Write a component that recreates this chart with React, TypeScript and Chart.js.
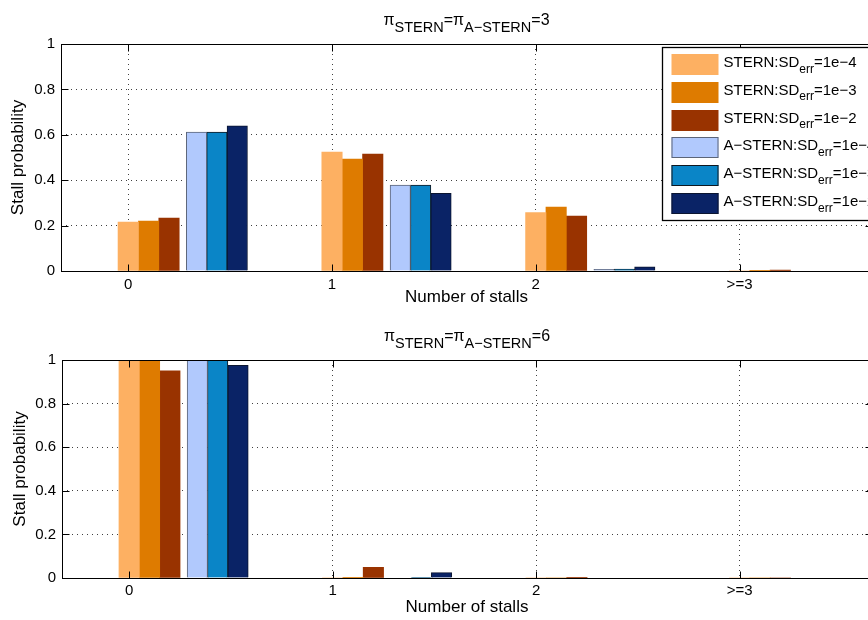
import React, { useEffect, useRef } from "react";
import { Chart, registerables } from "chart.js";

Chart.register(...registerables);

const FONT = "'Liberation Sans', Arial, Helvetica, sans-serif";

// ---- categories / tick labels ----
const stallCounts = [0, 1, 2, 3];
const stallLabels = ["0", "1", "2", ">=3"];

// ---- series description ----
const seriesMethods = ["STERN", "STERN", "STERN", "A\u2212STERN", "A\u2212STERN", "A\u2212STERN"];
const seriesSdErr = ["1e\u22124", "1e\u22123", "1e\u22122", "1e\u22124", "1e\u22123", "1e\u22122"];
const seriesFill = ["#FDB062", "#DE7B00", "#993300", "#B1C9FD", "#0A85C7", "#0A2366"];
const seriesEdge = ["", "", "", "#5C6578", "#101820", "#0B1530"];
const seriesOffsets = [0, 0.1, 0.2, 0.335, 0.435, 0.535];

const piValues = [3, 6];

// ---- pi = 3 (top panel) ----
const p3Stern1e4 = [0.216, 0.524, 0.257, 0.0];
const p3Stern1e3 = [0.22, 0.493, 0.282, 0.001];
const p3Stern1e2 = [0.233, 0.515, 0.242, 0.004];
const p3AStern1e4 = [0.612, 0.379, 0.007, 0.0];
const p3AStern1e3 = [0.612, 0.379, 0.008, 0.0];
const p3AStern1e2 = [0.639, 0.342, 0.018, 0.0];

// ---- pi = 6 (bottom panel) ----
const p6Stern1e4 = [1.0, 0.0, 0.0, 0.0];
const p6Stern1e3 = [0.999, 0.001, 0.0, 0.0];
const p6Stern1e2 = [0.95, 0.049, 0.001, 0.0];
const p6AStern1e4 = [1.0, 0.0, 0.0, 0.0];
const p6AStern1e3 = [0.999, 0.001, 0.0, 0.0];
const p6AStern1e2 = [0.975, 0.025, 0.0, 0.0];

const p3Series = [p3Stern1e4, p3Stern1e3, p3Stern1e2, p3AStern1e4, p3AStern1e3, p3AStern1e2];
const p6Series = [p6Stern1e4, p6Stern1e3, p6Stern1e2, p6AStern1e4, p6AStern1e3, p6AStern1e2];

const X_MIN = -0.33;
const X_MAX = 3.65;
const BAR_PX = 20.4;
const CANVAS_W = 880;
const CANVAS_H = 310;

type Part = { t: string; sub?: boolean };

function drawParts(ctx: CanvasRenderingContext2D, parts: Part[], x: number, baseline: number, mainSize: number, subSize: number, subDrop: number, center: boolean) {
  const widths = parts.map((p) => {
    ctx.font = `${p.sub ? subSize : mainSize}px ${FONT}`;
    return ctx.measureText(p.t).width;
  });
  const total = widths.reduce((a, b) => a + b, 0);
  let cx = center ? x - total / 2 : x;
  ctx.textAlign = "left";
  ctx.textBaseline = "alphabetic";
  parts.forEach((p, i) => {
    ctx.font = `${p.sub ? subSize : mainSize}px ${FONT}`;
    ctx.fillText(p.t, cx, p.sub ? baseline + subDrop : baseline);
    cx += widths[i];
  });
}

const matlabPlugin = {
  id: "matlab",
  afterDraw(chart: any, _args: any, opts: any) {
    const { ctx, chartArea: a } = chart;
    const L = Math.floor(a.left) + 0.5;
    const R = Math.floor(a.right) + 0.5;
    const T = Math.floor(a.top) + 0.5;
    const B = Math.floor(a.bottom) + 0.5;
    ctx.save();
    ctx.strokeStyle = "#000";
    ctx.lineWidth = 1;
    ctx.strokeRect(L, T, R - L, B - T);
    // inward ticks
    const tl = 7;
    ctx.beginPath();
    const xs = chart.scales.x;
    xs.ticks.forEach((t: any) => {
      const px = Math.round(xs.getPixelForValue(t.value)) + 0.5;
      ctx.moveTo(px, B);
      ctx.lineTo(px, B - tl);
      ctx.moveTo(px, T);
      ctx.lineTo(px, T + tl);
    });
    const ys = chart.scales.y;
    ys.ticks.forEach((t: any) => {
      const py = Math.round(ys.getPixelForValue(t.value)) + 0.5;
      ctx.moveTo(L, py);
      ctx.lineTo(L + tl, py);
      ctx.moveTo(R, py);
      ctx.lineTo(R - tl, py);
    });
    ctx.stroke();

    // title with subscripts
    ctx.fillStyle = "#000";
    const titleParts: Part[] = [
      { t: "\u03C0" },
      { t: "STERN", sub: true },
      { t: "=\u03C0" },
      { t: "A\u2212STERN", sub: true },
      { t: "=" + opts.piValue },
    ];
    drawParts(ctx, titleParts, (a.left + a.right) / 2, a.top - 19, 16, 14.5, 7, true);

    // legend
    if (opts.legend) {
      const lx = Math.round(a.right - 210) + 0.5;
      const ly = Math.round(a.top + 3) + 0.5;
      const lw = 207;
      const lh = 173;
      ctx.fillStyle = "#fff";
      ctx.fillRect(lx, ly, lw, lh);
      ctx.strokeStyle = "#000";
      ctx.lineWidth = 1.3;
      ctx.strokeRect(lx, ly, lw, lh);
      const pitch = 27.8;
      seriesMethods.forEach((m, i) => {
        const cy = ly + 17 + i * pitch;
        const bx = lx + 9;
        const by = Math.round(cy - 10.5);
        ctx.fillStyle = seriesFill[i];
        ctx.fillRect(bx, by, 47, 21);
        if (seriesEdge[i]) {
          ctx.strokeStyle = seriesEdge[i];
          ctx.lineWidth = 1;
          ctx.strokeRect(bx + 0.5, by + 0.5, 46, 20);
        }
        ctx.fillStyle = "#000";
        drawParts(
          ctx,
          [{ t: m + ":SD" }, { t: "err", sub: true }, { t: "=" + seriesSdErr[i] }],
          lx + 61,
          cy + 2.5,
          15,
          12,
          5.5,
          false
        );
      });
    }
    ctx.restore();
  },
};

type Geom = { top: number; padTop: number; yAxisW: number; xAxisH: number; xTickPad: number; yTitlePad: number };

function BarPanel({ series, piValue, legend, geom }: { series: number[][]; piValue: number; legend: boolean; geom: Geom }) {
  const ref = useRef<HTMLCanvasElement>(null);
  useEffect(() => {
    const datasets = series.map((vals, s) => ({
      label: `${seriesMethods[s]}:SD_err=${seriesSdErr[s]}`,
      data: stallCounts.map((c, i) => ({ x: c + seriesOffsets[s], y: vals[i] })),
      backgroundColor: seriesFill[s],
      borderColor: seriesEdge[s] || seriesFill[s],
      borderWidth: seriesEdge[s] ? 1 : 0,
      barThickness: BAR_PX,
      grouped: false,
    }));
    const gridCommon = { color: "#404040", lineWidth: 1, drawTicks: false, offset: false };
    const chart = new Chart(ref.current as HTMLCanvasElement, {
      type: "bar",
      data: { datasets } as any,
      options: {
        animation: false,
        responsive: false,
        events: [],
        layout: { padding: { top: geom.padTop, right: 8, bottom: 0, left: 0 } },
        plugins: {
          legend: { display: false },
          tooltip: { enabled: false },
          matlab: { piValue, legend },
        } as any,
        scales: {
          x: {
            type: "linear",
            min: X_MIN,
            max: X_MAX,
            offset: false,
            afterBuildTicks: (axis: any) => {
              axis.ticks = stallCounts.map((v) => ({ value: v }));
            },
            afterFit: (axis: any) => {
              axis.height = geom.xAxisH;
            },
            ticks: {
              callback: (_v: any, i: number) => stallLabels[i],
              font: { size: 15, family: FONT },
              color: "#000",
              padding: geom.xTickPad,
              maxRotation: 0,
              autoSkip: false,
            },
            grid: gridCommon,
            border: { display: false, dash: [1, 4] },
            title: {
              display: true,
              text: "Number of stalls",
              font: { size: 17, family: FONT },
              color: "#000",
              padding: { top: 0, bottom: 2 },
            },
          },
          y: {
            type: "linear",
            min: 0,
            max: 1,
            afterFit: (axis: any) => {
              axis.width = geom.yAxisW;
            },
            ticks: {
              stepSize: 0.2,
              callback: (v: any) => String(Number(Number(v).toFixed(2))),
              font: { size: 15, family: FONT },
              color: "#000",
              padding: 6,
            },
            grid: gridCommon,
            border: { display: false, dash: [1, 4] },
            title: {
              display: true,
              text: "Stall probability",
              font: { size: 17, family: FONT },
              color: "#000",
              padding: { top: geom.yTitlePad, bottom: 0 },
            },
          },
        },
      } as any,
      plugins: [matlabPlugin],
    });
    return () => chart.destroy();
  }, []);
  return (
    <canvas
      ref={ref}
      width={CANVAS_W}
      height={CANVAS_H}
      style={{ position: "absolute", left: 0, top: geom.top, display: "block" }}
    />
  );
}

export default function App() {
  return (
    <div
      style={{
        position: "fixed",
        left: 0,
        top: 0,
        width: 868,
        height: 620,
        overflow: "hidden",
        background: "#fff",
      }}
    >
      <BarPanel
        series={p3Series}
        piValue={piValues[0]}
        legend={true}
        geom={{ top: 0, padTop: 44, yAxisW: 61, xAxisH: 39, xTickPad: 5, yTitlePad: 8 }}
      />
      <BarPanel
        series={p6Series}
        piValue={piValues[1]}
        legend={false}
        geom={{ top: 310, padTop: 50, yAxisW: 62, xAxisH: 42, xTickPad: 4, yTitlePad: 10 }}
      />
    </div>
  );
}
